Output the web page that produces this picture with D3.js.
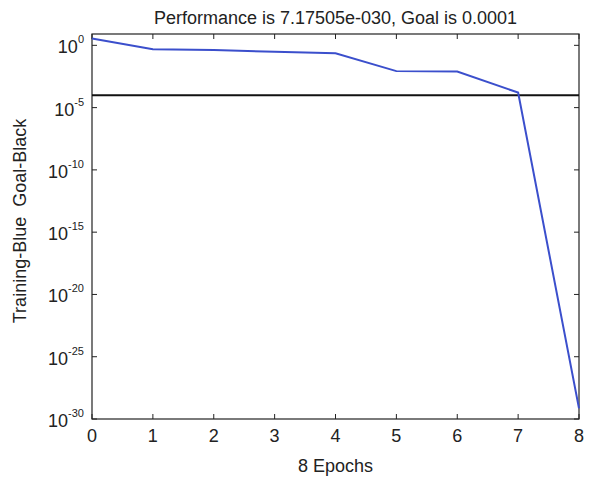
<!DOCTYPE html>
<html>
<head>
<meta charset="utf-8">
<script src="https://cdn.jsdelivr.net/npm/d3@7"></script>
<style>
  html, body { margin: 0; padding: 0; background: #fff; }
  svg { display: block; }
  text { font-family: "Liberation Sans", Arial, sans-serif; fill: #222; white-space: pre; }
</style>
</head>
<body>
<svg id="chart" width="590" height="482"></svg>
<script>
// Training performance per epoch (mean squared error, log scale)
const epochs = [0, 1, 2, 3, 4, 5, 6, 7, 8];
const performance = [3.6, 0.48, 0.42, 0.30, 0.23, 0.0085, 0.008, 1.6e-4, 7.17505e-30];
const goal = 0.0001;
const xTicks = [0, 1, 2, 3, 4, 5, 6, 7, 8];
const yTickExponents = [0, -5, -10, -15, -20, -25, -30];
const titleText = "Performance is 7.17505e-030, Goal is 0.0001";
const xLabelText = "8 Epochs";
const yLabelText = "Training-Blue  Goal-Black";

const svg = d3.select("#chart");
const plotLeft = 92, plotRight = 579, plotTop = 34, plotBottom = 419;

const x = d3.scaleLinear().domain([0, 8]).range([plotLeft, plotRight]);
const y = d3.scaleLog().domain([1e-30, Math.pow(10, 0.91)]).range([plotBottom, plotTop]);

// plot box
svg.append("rect")
  .attr("x", plotLeft).attr("y", plotTop)
  .attr("width", plotRight - plotLeft).attr("height", plotBottom - plotTop)
  .attr("fill", "#fff").attr("stroke", "#222").attr("stroke-width", 1.2);

const tickLen = 5;
const axisColor = "#222";

// inward ticks on all four sides
const xt = svg.append("g");
xTicks.forEach(v => {
  const px = x(v);
  xt.append("line").attr("x1", px).attr("x2", px).attr("y1", plotBottom).attr("y2", plotBottom - tickLen)
    .attr("stroke", axisColor);
  xt.append("line").attr("x1", px).attr("x2", px).attr("y1", plotTop).attr("y2", plotTop + tickLen)
    .attr("stroke", axisColor);
  xt.append("text").attr("x", px).attr("y", 442)
    .attr("text-anchor", "middle").attr("font-size", 18).text(v);
});

// decade ticks labelled as 10 with a superscript exponent, right-aligned to the axis
const yt = svg.append("g");
yTickExponents.forEach(e => {
  const py = y(Math.pow(10, e));
  yt.append("line").attr("x1", plotLeft).attr("x2", plotLeft + tickLen).attr("y1", py).attr("y2", py)
    .attr("stroke", axisColor);
  yt.append("line").attr("x1", plotRight).attr("x2", plotRight - tickLen).attr("y1", py).attr("y2", py)
    .attr("stroke", axisColor);
  const t = yt.append("text").attr("x", 84).attr("y", py + 8)
    .attr("text-anchor", "end").attr("font-size", 18);
  t.append("tspan").text("10");
  t.append("tspan").attr("dy", -10).attr("font-size", 11).text(e);
});

// goal line
svg.append("line")
  .attr("x1", plotLeft).attr("x2", plotRight)
  .attr("y1", y(goal)).attr("y2", y(goal))
  .attr("stroke", "#111").attr("stroke-width", 2);

// training curve
const line = d3.line().x((d, i) => x(epochs[i])).y(d => y(d));
svg.append("path")
  .datum(performance)
  .attr("d", line)
  .attr("fill", "none")
  .attr("stroke", "#3b4fcc")
  .attr("stroke-width", 2);

// titles
svg.append("text").attr("x", (plotLeft + plotRight) / 2).attr("y", 24)
  .attr("text-anchor", "middle").attr("font-size", 18).text(titleText);
svg.append("text").attr("x", (plotLeft + plotRight) / 2).attr("y", 472)
  .attr("text-anchor", "middle").attr("font-size", 18).text(xLabelText);
svg.append("text")
  .attr("transform", "translate(26,221) rotate(-90)")
  .attr("text-anchor", "middle").attr("font-size", 18).text(yLabelText);
</script>
</body>
</html>
